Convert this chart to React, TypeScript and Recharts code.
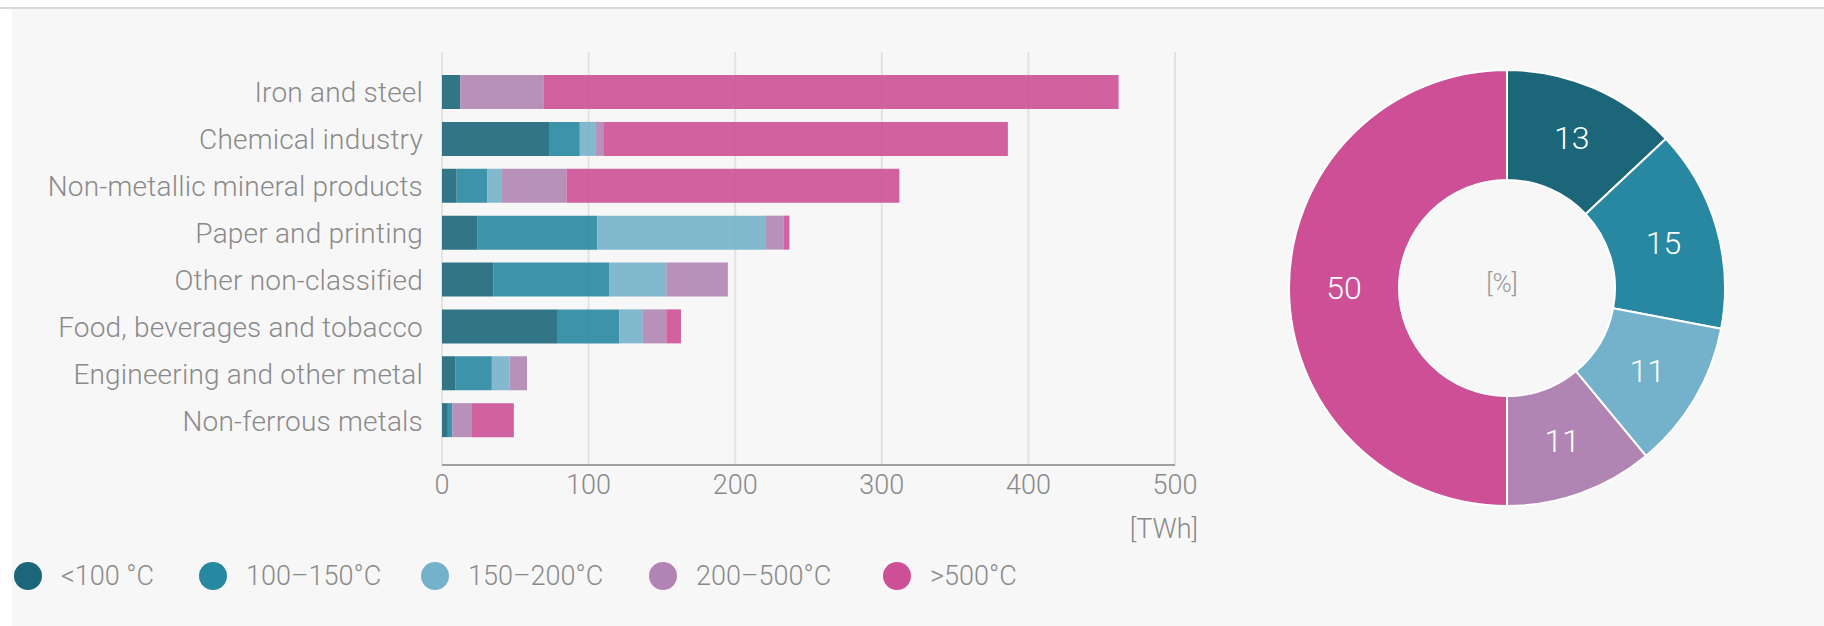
import React from "react";
import { BarChart, Bar, XAxis, YAxis, CartesianGrid, Legend, PieChart, Pie, Cell, Label } from "recharts";

const categories = [
	"Iron and steel",
	"Chemical industry",
	"Non-metallic mineral products",
	"Paper and printing",
	"Other non-classified",
	"Food, beverages and tobacco",
	"Engineering and other metal",
	"Non-ferrous metals"
];

// TWh per temperature band
const below100 = [12.5, 73, 10, 24, 35, 79, 9, 4];
const from100to150 = [0, 21, 21, 82, 79, 42, 25, 3];
const from150to200 = [0, 11, 10, 115, 39, 16, 12, 0];
const from200to500 = [57, 5, 44, 12, 42, 16, 12, 13];
const above500 = [392, 276, 227, 4, 0, 10, 0, 29];

const seriesNames = ["<100 °C", "100–150°C", "150–200°C", "200–500°C", ">500°C"];
const sharePercent = [13, 15, 11, 11, 50];
const xTicks = [0, 100, 200, 300, 400, 500];

const colors = ["#1b6679", "#2887a1", "#74b1ca", "#b085b3", "#cd5096"];
const seriesKeys = ["b100", "b150", "b200", "b500", "a500"];
// legend slot widths (px)
const legendSlots = [185, 222, 228, 234, 200];

const barData = categories.map((name, i) => ({
	name,
	b100: below100[i],
	b150: from100to150[i],
	b200: from150to200[i],
	b500: from200to500[i],
	a500: above500[i]
}));

const pieData = seriesNames.map((name, i) => ({ name, value: sharePercent[i] }));

const FONT = "Roboto, sans-serif";
const GREY = "#8a8a8a";
const RADIAN = Math.PI / 180;

const renderLegend = () => (
	<div
		style={{
			display: "flex",
			alignItems: "center",
			height: 40,
			paddingLeft: 14,
			fontFamily: FONT,
			fontWeight: 300,
			fontSize: 27,
			color: GREY
		}}
	>
		{seriesNames.map((n, i) => (
			<div key={n} style={{ display: "flex", alignItems: "center", width: legendSlots[i], flex: "none" }}>
				<span
					style={{ display: "inline-block", width: 28, height: 28, borderRadius: 14, background: colors[i], marginRight: 19 }}
				/>
				<span>{n}</span>
			</div>
		))}
	</div>
);

const renderUnit = (props: any) => {
	const { viewBox } = props;
	return (
		<text
			x={viewBox.x + viewBox.width + 23}
			y={viewBox.y + 73}
			textAnchor="end"
			fill={GREY}
			fontSize={27}
			fontWeight={300}
			fontFamily={FONT}
		>
			[TWh]
		</text>
	);
};

const renderSliceLabel = (props: any) => {
	const { cx, cy, midAngle, innerRadius, outerRadius, value } = props;
	const r = (innerRadius + outerRadius) / 2;
	const x = cx + r * Math.cos(-midAngle * RADIAN);
	const y = cy + r * Math.sin(-midAngle * RADIAN);
	return (
		<text x={x} y={y} fill="#ffffff" textAnchor="middle" dominantBaseline="central" fontSize={32} fontFamily={FONT} fontWeight={300}>
			{value}
		</text>
	);
};

const App = () => {
	return (
		<div style={{ position: "absolute", left: 0, top: 0, width: 1824, height: 626, background: "#ffffff", overflow: "hidden" }}>
			<div style={{ position: "absolute", left: 0, top: 7, width: 1824, height: 2, background: "#d9d9d9" }} />
			<div style={{ position: "absolute", left: 12, top: 9, width: 1812, height: 617, background: "#f7f7f7" }} />

			<div style={{ position: "absolute", left: 0, top: 0 }}>
				<BarChart
					width={1200}
					height={626}
					data={barData}
					layout="vertical"
					margin={{ top: 52, right: 25, left: 0, bottom: 30 }}
				>
					<CartesianGrid horizontal={false} stroke="#e3e3e3" strokeWidth={2} />
					<XAxis
						type="number"
						domain={[0, 500]}
						ticks={xTicks}
						height={91}
						tickSize={0}
						tickMargin={10}
						axisLine={{ stroke: "#a0a0a0", strokeWidth: 2 }}
						tick={{ fill: GREY, fontSize: 27, fontWeight: 300, fontFamily: FONT }}
						label={renderUnit}
					/>
					<YAxis
						type="category"
						dataKey="name"
						width={442}
						tickSize={0}
						tickMargin={19}
						axisLine={false}
						tickLine={false}
						interval={0}
						padding={{ top: 17, bottom: 21 }}
						tick={{ fill: GREY, fontSize: 28, fontWeight: 300, fontFamily: FONT, letterSpacing: 0.2 }}
					/>
					<Legend verticalAlign="bottom" align="left" content={renderLegend} />
					{seriesKeys.map((k, i) => (
						<Bar key={k} dataKey={k} stackId="a" fill={colors[i]} fillOpacity={0.9} barSize={34} isAnimationActive={false} />
					))}
				</BarChart>
			</div>

			<div style={{ position: "absolute", left: 1252, top: 33 }}>
				<PieChart width={500} height={500}>
					<Pie
						data={pieData}
						dataKey="value"
						cx={250}
						cy={250}
						innerRadius={108}
						outerRadius={218}
						startAngle={90}
						endAngle={-270}
						stroke="#ffffff"
						strokeWidth={2}
						labelLine={false}
						label={renderSliceLabel}
						isAnimationActive={false}
					>
						{pieData.map((d, i) => (
							<Cell key={d.name} fill={colors[i]} />
						))}
						<Label value="[%]" position="center" fill="#999999" fontSize={26} fontWeight={300} fontFamily={FONT} />
					</Pie>
				</PieChart>
			</div>
		</div>
	);
};

export default App;
